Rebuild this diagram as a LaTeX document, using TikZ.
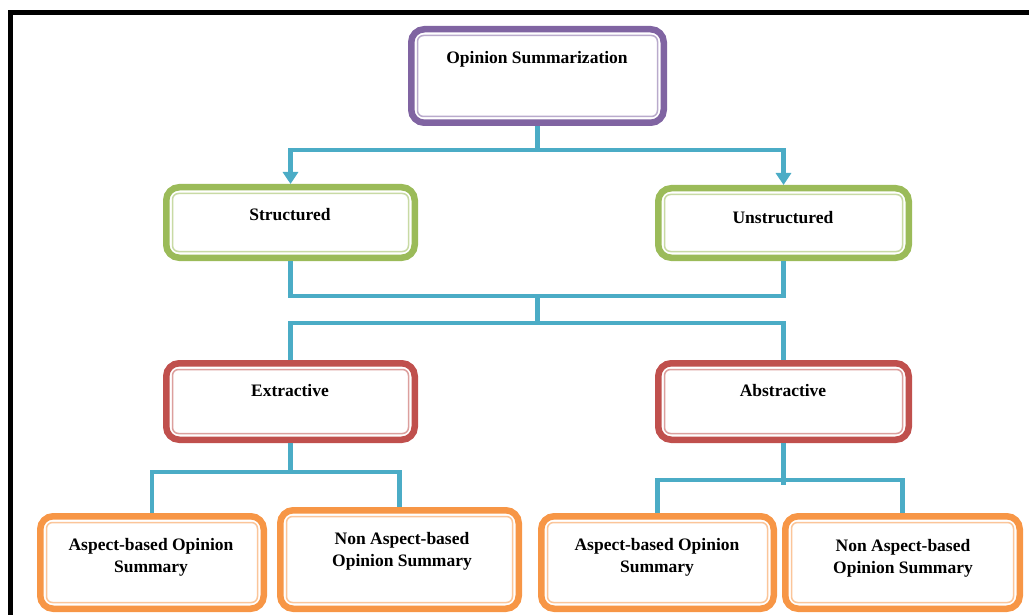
\documentclass[tikz,border=0pt]{standalone}
\usepackage{fontspec}
\setmainfont{Liberation Serif}
\usetikzlibrary{arrows.meta}
\definecolor{cpurple}{HTML}{8064A2}
\definecolor{cgreen}{HTML}{9BBB59}
\definecolor{cred}{HTML}{C0504D}
\definecolor{corange}{HTML}{F79646}
\definecolor{cblue}{HTML}{4BACC6}
\begin{document}
\begin{tikzpicture}[x=1pt,y=-1pt,
  box/.style={draw=#1, fill=white, line width=6.5pt, rounded corners=13pt, inner sep=0pt},
  inline/.style={draw=#1!55, line width=1.5pt, rounded corners=6pt},
  lbl/.style={font=\fontsize{17.5}{22}\selectfont\bfseries, align=center, inner sep=0pt},
  conn/.style={draw=cblue, line width=4.5pt},
  arr/.style={conn, -{Triangle[width=15pt,length=12pt]}}]
\useasboundingbox (0,0) rectangle (1029,615);
\clip (0,0) rectangle (1029,615);
% frame
\draw[line width=4.5pt] (10.3,700) -- (10.3,12.5) -- (1100,12.5);
% boxes
\node[box=cpurple, minimum width=252.5pt, minimum height=93.5pt] (os) at (537.5,76) {};
\node[box=cgreen,  minimum width=248.5pt, minimum height=70.5pt] (st) at (290.5,222.5) {};
\node[box=cgreen,  minimum width=250.5pt, minimum height=69.5pt] (un) at (783.5,223) {};
\node[box=cred,    minimum width=248.5pt, minimum height=76.5pt] (ex) at (290.5,401.5) {};
\node[box=cred,    minimum width=250.5pt, minimum height=76.5pt] (ab) at (783.5,401.5) {};
\node[box=corange, minimum width=223.5pt, minimum height=92.5pt] (a1) at (152,562.5) {};
\node[box=corange, minimum width=238.5pt, minimum height=98.5pt] (n1) at (399.5,559.5) {};
\node[box=corange, minimum width=232.5pt, minimum height=92.5pt] (a2) at (657.5,562.5) {};
\node[box=corange, minimum width=234.5pt, minimum height=92.5pt] (n2) at (902.5,562.5) {};
\foreach \n/\c in {os/cpurple, st/cgreen, un/cgreen, ex/cred, ab/cred, a1/corange, n1/corange, a2/corange, n2/corange}
  \draw[inline=\c] ([shift={(9.5pt,-9.5pt)}]\n.north west) rectangle ([shift={(-9.5pt,9.5pt)}]\n.south east);
% labels
\node[lbl] (os-t) at (537,59) {Opinion Summarization};
\node[lbl] (st-t) at (290,215) {Structured};
\node[lbl] (un-t) at (783,218) {Unstructured};
\node[lbl] (ex-t) at (290,391) {Extractive};
\node[lbl] (ab-t) at (783,391) {Abstractive};
\node[lbl] (a1-t) at (151,557) {Aspect-based Opinion\\Summary};
\node[lbl] (n1-t) at (402,551) {Non Aspect-based\\Opinion Summary};
\node[lbl] (a2-t) at (657,557) {Aspect-based Opinion\\Summary};
\node[lbl] (n2-t) at (903,558) {Non Aspect-based\\Opinion Summary};
% connectors
\coordinate (j1) at (537.5,150);
\coordinate (j2) at (537.5,296);
\coordinate (j3) at (537.5,323);
\coordinate (j4) at (290.5,472);
\coordinate (j5) at (783.5,480);
\coordinate (j5e) at (783.5,485);
\draw[conn] (os.south) -- (j1);
\draw[arr] (j1) -| (st.north);
\draw[arr] (j1) -| (un.north);
\draw[conn] (st.south) |- (j2) -| (un.south);
\draw[conn] (j2) -- (j3);
\draw[conn] (ex.north) |- (j3) -| (ab.north);
\draw[conn] (ex.south) -- (j4);
\draw[conn] (a1.north) |- (j4) -| (n1.north);
\draw[conn] (ab.south) -- (j5e);
\draw[conn] (a2.north) |- (j5) -| (n2.north);
\end{tikzpicture}
\end{document}
